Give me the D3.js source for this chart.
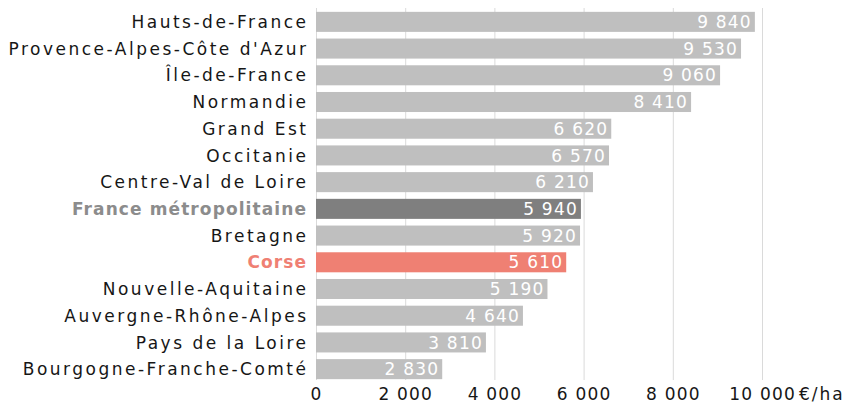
<!DOCTYPE html>
<html>
<head>
<meta charset="utf-8">
<script src="https://cdn.jsdelivr.net/npm/d3@7"></script>
<style>
  body { margin: 0; background: #fff; }
  svg { display: block; font-family: "DejaVu Sans", sans-serif; }
</style>
</head>
<body>
<svg id="chart"></svg>
<script>
const regions = ["Hauts-de-France", "Provence-Alpes-Côte d'Azur", "Île-de-France", "Normandie",
  "Grand Est", "Occitanie", "Centre-Val de Loire", "France métropolitaine", "Bretagne", "Corse",
  "Nouvelle-Aquitaine", "Auvergne-Rhône-Alpes", "Pays de la Loire", "Bourgogne-Franche-Comté"];
const values = [9840, 9530, 9060, 8410, 6620, 6570, 6210, 5940, 5920, 5610, 5190, 4640, 3810, 2830];
const ticks = [0, 2000, 4000, 6000, 8000, 10000];
const unit = "€/ha";

const WIDTH = 848, HEIGHT = 405;
const margin = {top: 8.5, right: 86, bottom: 22.5, left: 316};

const fmt = v => d3.format(",")(v).replace(/,/g, " ");
const isFrance = d => d === "France métropolitaine";
const isCorse = d => d === "Corse";
const isBold = d => isFrance(d) || isCorse(d);

const svg = d3.select("#chart").attr("width", WIDTH).attr("height", HEIGHT);

const x = d3.scaleLinear().domain([0, 10000]).range([margin.left, WIDTH - margin.right]);
const y = d3.scaleBand().domain(regions)
  .range([margin.top, HEIGHT - margin.bottom])
  .paddingInner(0.25).paddingOuter(0.125);

const barColor = d => isFrance(d) ? "#7f7f7f" : isCorse(d) ? "#ef8073" : "#bfbfbf";
const labelColor = d => isFrance(d) ? "#8c8c8c" : isCorse(d) ? "#ef8073" : "#161616";

// grid
svg.append("g")
  .selectAll("line")
  .data(ticks)
  .join("line")
  .attr("x1", d => x(d) + 0.5).attr("x2", d => x(d) + 0.5)
  .attr("y1", 8).attr("y2", 380)
  .attr("stroke", "#dadada").attr("stroke-width", 1);

// bars
svg.append("g")
  .selectAll("rect")
  .data(regions)
  .join("rect")
  .attr("x", x(0))
  .attr("y", d => y(d))
  .attr("width", (d, i) => x(values[i]) - x(0))
  .attr("height", y.bandwidth())
  .attr("fill", barColor);

// values
svg.append("g")
  .selectAll("text")
  .data(regions)
  .join("text")
  .attr("x", (d, i) => x(values[i]) - 3)
  .attr("y", d => y(d) + y.bandwidth() / 2)
  .attr("dy", "0.36em")
  .attr("text-anchor", "end")
  .attr("fill", "#fff")
  .attr("font-size", 17)
  .attr("letter-spacing", 1.2)
  .text((d, i) => fmt(values[i]));

// category labels
svg.append("g")
  .selectAll("text")
  .data(regions)
  .join("text")
  .attr("x", d => isBold(d) ? 306 + 1.1 : 306 + 2.5)
  .attr("y", d => y(d) + y.bandwidth() / 2)
  .attr("dy", "0.36em")
  .attr("text-anchor", "end")
  .attr("fill", labelColor)
  .attr("font-weight", d => isBold(d) ? 700 : 400)
  .attr("letter-spacing", d => isBold(d) ? 1.1 : 2.5)
  .attr("font-size", 17)
  .text(d => d);

// x axis labels
svg.append("g")
  .selectAll("text")
  .data(ticks)
  .join("text")
  .attr("x", d => x(d) + 0.6)
  .attr("y", 400)
  .attr("text-anchor", "middle")
  .attr("fill", "#161616")
  .attr("font-size", 17)
  .attr("letter-spacing", 1.2)
  .text(d => fmt(d));

svg.append("text")
  .attr("x", x(10000) + 37)
  .attr("y", 400)
  .attr("fill", "#161616")
  .attr("font-size", 17)
  .attr("letter-spacing", 2)
  .text(unit);
</script>
</body>
</html>
